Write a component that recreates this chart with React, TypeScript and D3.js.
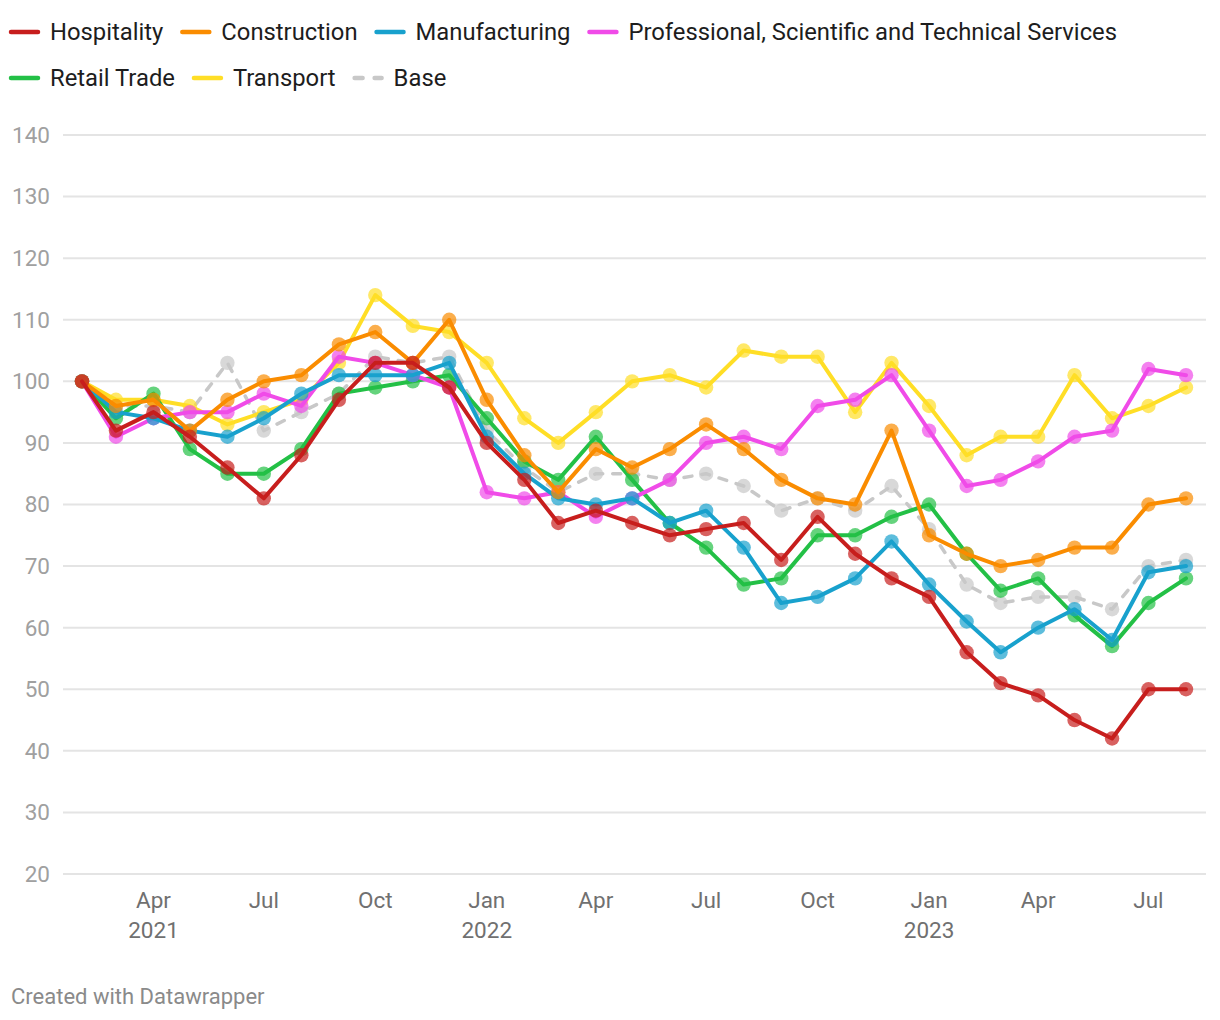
import React, { useEffect, useRef } from "react";
import * as d3 from "d3";

const months = [
  "2021-02", "2021-03", "2021-04", "2021-05", "2021-06", "2021-07", "2021-08", "2021-09", "2021-10", "2021-11", "2021-12",
  "2022-01", "2022-02", "2022-03", "2022-04", "2022-05", "2022-06", "2022-07", "2022-08", "2022-09", "2022-10", "2022-11", "2022-12",
  "2023-01", "2023-02", "2023-03", "2023-04", "2023-05", "2023-06", "2023-07", "2023-08",
];

const hospitality = [100, 92, 95, 91, 86, 81, 88, 97, 103, 103, 99, 90, 84, 77, 79, 77, 75, 76, 77, 71, 78, 72, 68, 65, 56, 51, 49, 45, 42, 50, 50];
const construction = [100, 96, 97, 92, 97, 100, 101, 106, 108, 103, 110, 97, 88, 82, 89, 86, 89, 93, 89, 84, 81, 80, 92, 75, 72, 70, 71, 73, 73, 80, 81];
const manufacturing = [100, 95, 94, 92, 91, 94, 98, 101, 101, 101, 103, 91, 85, 81, 80, 81, 77, 79, 73, 64, 65, 68, 74, 67, 61, 56, 60, 63, 58, 69, 70];
const professional = [100, 91, 94, 95, 95, 98, 96, 104, 103, 101, 99, 82, 81, 82, 78, 81, 84, 90, 91, 89, 96, 97, 101, 92, 83, 84, 87, 91, 92, 102, 101];
const retail = [100, 94, 98, 89, 85, 85, 89, 98, 99, 100, 101, 94, 87, 84, 91, 84, 77, 73, 67, 68, 75, 75, 78, 80, 72, 66, 68, 62, 57, 64, 68];
const transport = [100, 97, 97, 96, 93, 95, 97, 103, 114, 109, 108, 103, 94, 90, 95, 100, 101, 99, 105, 104, 104, 95, 103, 96, 88, 91, 91, 101, 94, 96, 99];
const base = [100, 96, 96, 95, 103, 92, 95, 98, 104, 103, 104, 92, 86, 82, 85, 85, 84, 85, 83, 79, 81, 79, 83, 76, 67, 64, 65, 65, 63, 70, 71];

const seriesNames = ["Hospitality", "Construction", "Manufacturing", "Professional, Scientific and Technical Services", "Retail Trade", "Transport", "Base"];
const seriesValues = [hospitality, construction, manufacturing, professional, retail, transport, base];
const seriesColors = ["#c71e1d", "#fa8c00", "#18a1cd", "#f04be8", "#23c046", "#ffde26", "#c8c8c8"];
const seriesDashed = [false, false, false, false, false, false, true];

const yTicks = [20, 30, 40, 50, 60, 70, 80, 90, 100, 110, 120, 130, 140];
const xTickDates = ["2021-04", "2021-07", "2021-10", "2022-01", "2022-04", "2022-07", "2022-10", "2023-01", "2023-04", "2023-07"];
const monthNames = ["Jan", "Feb", "Mar", "Apr", "May", "Jun", "Jul", "Aug", "Sep", "Oct", "Nov", "Dec"];

const W = 1220;
const H = 1020;
const FONT = "Roboto, 'Noto Sans', sans-serif";

const parse = (s: string) => {
  const [y, m] = s.split("-").map(Number);
  return new Date(y, m - 1, 1);
};

export default function App() {
  const ref = useRef<SVGSVGElement | null>(null);

  useEffect(() => {
    const svg = d3.select(ref.current);
    svg.selectAll("*").remove();

    const dates = months.map(parse);
    const x = d3.scaleTime().domain([dates[0], dates[dates.length - 1]]).range([82, 1186]);
    const y = d3.scaleLinear().domain([20, 140]).range([874, 135]);

    // Legend
    const legend = svg.append("g");
    let lx = 9;
    let ly = 32;
    seriesNames.forEach((name, i) => {
      const g = legend.append("g");
      const txt = g
        .append("text")
        .attr("x", 41)
        .attr("y", 0)
        .attr("dy", "0.35em")
        .attr("font-family", FONT)
        .attr("font-size", 23.8)
        .attr("fill", "#1d1d1d")
        .text(name);
      const tw = (txt.node() as SVGTextElement).getComputedTextLength();
      const itemW = 41 + tw;
      if (lx + itemW > 1210) {
        lx = 9;
        ly += 46;
      }
      g.attr("transform", `translate(${lx},${ly})`);
      g.insert("line", "text")
        .attr("x1", 2)
        .attr("x2", 29)
        .attr("y1", 0)
        .attr("y2", 0)
        .attr("stroke", seriesColors[i])
        .attr("stroke-width", 4.5)
        .attr("stroke-linecap", "round")
        .attr("stroke-dasharray", seriesDashed[i] ? "8,12" : null);
      lx += itemW + 17;
    });

    // Grid
    const grid = svg.append("g");
    yTicks.forEach((t) => {
      grid
        .append("line")
        .attr("x1", 63)
        .attr("x2", 1206)
        .attr("y1", y(t))
        .attr("y2", y(t))
        .attr("stroke", "#e4e4e4")
        .attr("stroke-width", 2);
      grid
        .append("text")
        .attr("x", 50)
        .attr("y", y(t))
        .attr("dy", "0.35em")
        .attr("text-anchor", "end")
        .attr("font-family", FONT)
        .attr("font-size", 22.5)
        .attr("fill", "#a0a0a0")
        .text(String(t));
    });

    // X axis labels
    xTickDates.forEach((s, i) => {
      const d = parse(s);
      const g = svg.append("g").attr("transform", `translate(${x(d)},0)`);
      g.append("text")
        .attr("x", 0)
        .attr("y", 908)
        .attr("text-anchor", "middle")
        .attr("font-family", FONT)
        .attr("font-size", 22.5)
        .attr("fill", "#707070")
        .text(monthNames[d.getMonth()]);
      if (i === 0 || d.getMonth() === 0) {
        g.append("text")
          .attr("x", 0)
          .attr("y", 938)
          .attr("text-anchor", "middle")
          .attr("font-family", FONT)
          .attr("font-size", 22.5)
          .attr("fill", "#707070")
          .text(String(d.getFullYear()));
      }
    });

    // Series, bottom to top: Base first, Hospitality last
    const order = [6, 5, 4, 3, 2, 1, 0];
    const lineGen = d3
      .line<number>()
      .x((_, i) => x(dates[i]))
      .y((v) => y(v));
    order.forEach((si) => {
      const vals = seriesValues[si];
      const g = svg.append("g");
      g.append("path")
        .attr("d", lineGen(vals) || "")
        .attr("fill", "none")
        .attr("stroke", seriesColors[si])
        .attr("stroke-width", seriesDashed[si] ? 3.5 : 4)
        .attr("stroke-linejoin", "round")
        .attr("stroke-linecap", "round")
        .attr("stroke-dasharray", seriesDashed[si] ? "8,10" : null);
      g.selectAll("circle")
        .data(vals)
        .enter()
        .append("circle")
        .attr("cx", (_, i) => x(dates[i]))
        .attr("cy", (v) => y(v))
        .attr("r", 7.2)
        .attr("fill", seriesColors[si])
        .attr("fill-opacity", 0.7);
    });

    // Footer
    svg
      .append("text")
      .attr("x", 11)
      .attr("y", 1004)
      .attr("font-family", FONT)
      .attr("font-size", 22)
      .attr("fill", "#8a8a8a")
      .text("Created with Datawrapper");
  }, []);

  return (
    <div style={{ position: "absolute", left: 0, top: 0, width: W, height: H, background: "#fff" }}>
      <svg ref={ref} width={W} height={H} style={{ display: "block" }} />
    </div>
  );
}
